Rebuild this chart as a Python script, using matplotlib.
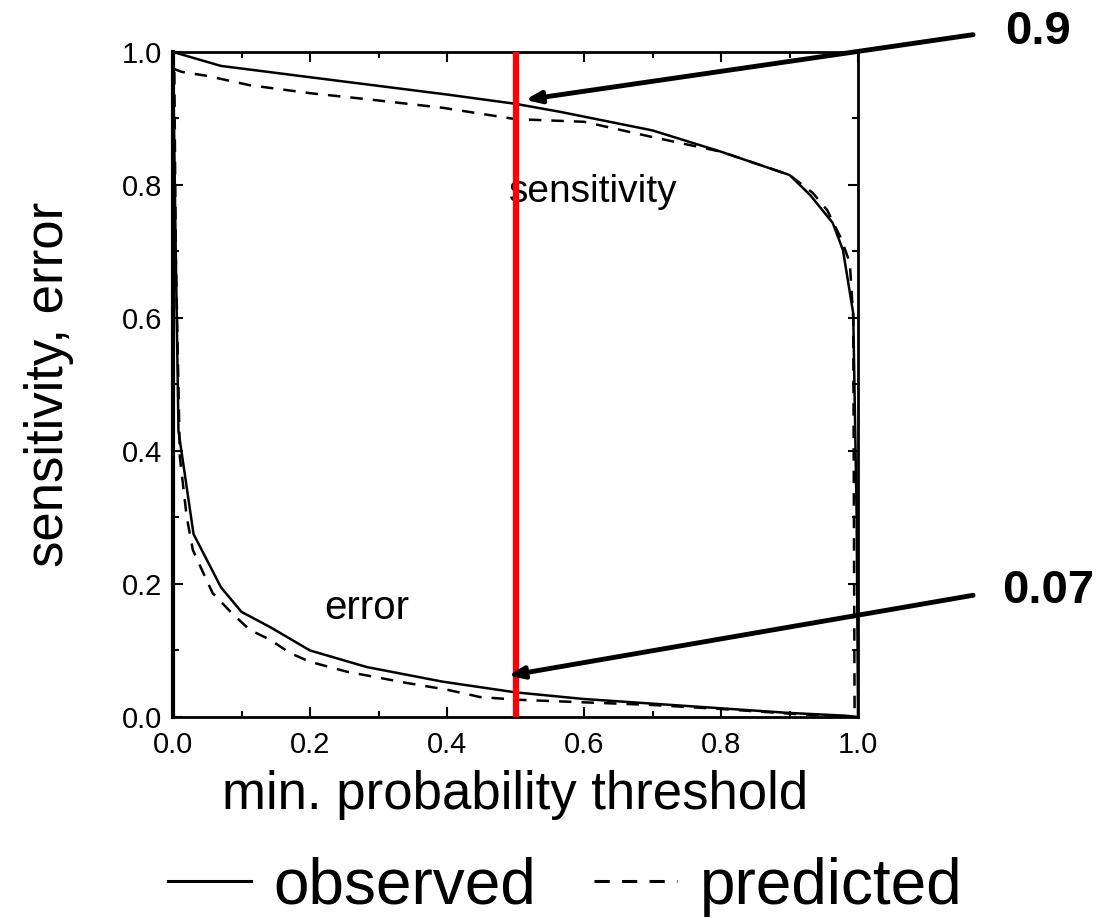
import matplotlib
matplotlib.use("Agg")
import matplotlib.pyplot as plt
from matplotlib.ticker import MultipleLocator

plt.rcParams['font.family'] = ['Liberation Sans', 'DejaVu Sans']

# observed sensitivity
sens_obs_x = [0, 0.07, 0.2, 0.3, 0.4, 0.5, 0.565, 0.7, 0.8, 0.9, 0.93, 0.963, 0.978, 0.993, 0.998, 1.0]
sens_obs_y = [1.0, 0.979, 0.962, 0.949, 0.936, 0.922, 0.91, 0.882, 0.85, 0.815, 0.785, 0.743, 0.702, 0.607, 0.3, 0.0]
# predicted sensitivity
sens_pred_x = [0, 0.013, 0.05, 0.112, 0.2, 0.283, 0.394, 0.45, 0.5, 0.6, 0.7, 0.8, 0.9, 0.934, 0.955, 0.975, 0.988, 0.993, 0.995]
sens_pred_y = [0.975, 0.97, 0.964, 0.95, 0.938, 0.929, 0.916, 0.907, 0.899, 0.895, 0.872, 0.85, 0.815, 0.788, 0.762, 0.72, 0.683, 0.6, 0.0]
# observed error
err_obs_x = [0, 0.004, 0.008, 0.03, 0.07, 0.1, 0.142, 0.2, 0.283, 0.394, 0.5, 0.6, 0.7, 0.8, 0.9, 0.98, 1.0]
err_obs_y = [1.0, 0.7, 0.43, 0.275, 0.195, 0.158, 0.135, 0.1, 0.075, 0.053, 0.037, 0.027, 0.02, 0.013, 0.006, 0.002, 0.0]
# predicted error
err_pred_x = [0.002, 0.004, 0.01, 0.015, 0.02, 0.029, 0.044, 0.058, 0.086, 0.112, 0.142, 0.171, 0.2, 0.254,
              0.342, 0.4, 0.448, 0.5, 0.6, 0.7, 0.8, 0.9, 0.99]
err_pred_y = [0.97, 0.7, 0.391, 0.346, 0.301, 0.251, 0.217, 0.186, 0.156, 0.131, 0.116, 0.096, 0.083, 0.068,
              0.051, 0.041, 0.03, 0.026, 0.022, 0.018, 0.012, 0.005, 0.0]

threshold = 0.5
annot_labels = ["0.9", "0.07"]
annot_tips = [(0.514, 0.928), (0.489, 0.062)]
annot_tails = [(1.168, 1.026), (1.168, 0.183)]
annot_text_pos = [(1.215, 1.03), (1.21, 0.19)]

fig = plt.figure(figsize=(11.04, 9.18), dpi=100)
ax = fig.add_axes([0.1567, 0.2190, 0.6205, 0.7244])

dash = (0, (5, 4))
l_obs, = ax.plot(sens_obs_x, sens_obs_y, color='black', lw=1.8)
l_pred, = ax.plot(sens_pred_x, sens_pred_y, color='black', lw=1.8, linestyle=dash)
ax.plot(err_obs_x, err_obs_y, color='black', lw=1.8)
ax.plot(err_pred_x, err_pred_y, color='black', lw=1.8, linestyle=dash)

ax.axvline(threshold, color='#ff0000', lw=4.5, zorder=5)

ax.set_xlim(0, 1)
ax.set_ylim(0, 1)
ax.set_xticks([0, 0.2, 0.4, 0.6, 0.8, 1.0])
ax.set_yticks([0, 0.2, 0.4, 0.6, 0.8, 1.0])
ax.set_xticklabels([f"{v:.1f}" for v in [0, 0.2, 0.4, 0.6, 0.8, 1.0]])
ax.set_yticklabels([f"{v:.1f}" for v in [0, 0.2, 0.4, 0.6, 0.8, 1.0]])
ax.xaxis.set_minor_locator(MultipleLocator(0.1))
ax.yaxis.set_minor_locator(MultipleLocator(0.1))
ax.tick_params(which='both', direction='in', top=True, right=True, width=1.5)
ax.tick_params(which='major', length=7)
ax.tick_params(which='minor', length=4)
ax.tick_params(axis='x', which='major', labelsize=21, pad=10)
ax.tick_params(axis='y', which='major', labelsize=21, pad=8)
for s in ['top', 'bottom', 'right']:
    ax.spines[s].set_linewidth(2)
ax.spines['left'].set_linewidth(3)

ax.set_xlabel("min. probability threshold", fontsize=38, labelpad=8)
ax.set_ylabel("sensitivity, error", fontsize=38, labelpad=34)

ax.text(0.49, 0.79, "sensitivity", fontsize=28, ha='left', va='center')
ax.text(0.283, 0.164, "error", fontsize=29, ha='center', va='center')

for lab, tip, tail, tp in zip(annot_labels, annot_tips, annot_tails, annot_text_pos):
    ax.annotate("", xy=tip, xytext=tail, xycoords='data', textcoords='data',
                arrowprops=dict(arrowstyle='-|>,head_length=0.9,head_width=0.35', color='black',
                                lw=3.5, shrinkA=0, shrinkB=0),
                annotation_clip=False, zorder=6)
    ax.text(tp[0], tp[1], lab, fontsize=34, fontweight='bold', ha='left', va='center',
            transform=ax.transData, clip_on=False)

leg = fig.legend([l_obs, l_pred], ["observed", "predicted"], loc='center', bbox_to_anchor=(0.512, 0.034),
                 ncol=2, frameon=False, fontsize=46, handlelength=1.3, handletextpad=0.35,
                 columnspacing=0.9, borderpad=0)
for h in leg.legend_handles:
    h.set_linewidth(2.2)

fig.savefig("out.png", dpi=100)
